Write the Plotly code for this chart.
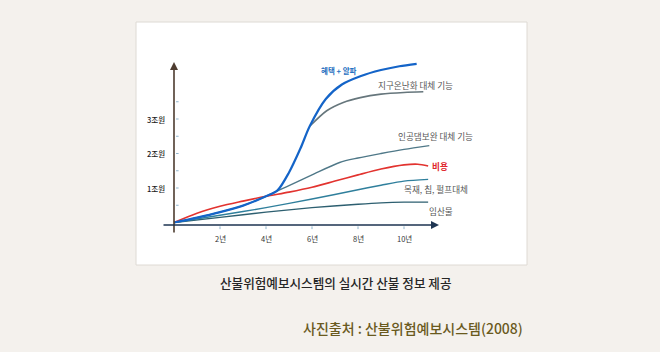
import plotly.graph_objects as go

# ---- data (years, 조원) ----
benefit_x = [0, 1, 2, 3, 4, 4.5, 5, 5.5, 5.9, 6.6, 7.3, 8.1, 9, 9.8, 10.55]
benefit_y = [0, 0.14, 0.30, 0.49, 0.76, 0.93, 1.45, 2.15, 2.79, 3.58, 4.0, 4.24, 4.42, 4.53, 4.6]

warming_x = [5.9, 6.64, 7.36, 8.1, 9.0, 10.0, 10.84]
warming_y = [2.79, 3.24, 3.48, 3.62, 3.72, 3.77, 3.79]

dam_x = [0, 1, 2, 3, 4, 5, 6, 7.2, 8, 9, 10, 11.1]
dam_y = [0, 0.14, 0.30, 0.49, 0.76, 1.07, 1.38, 1.74, 1.87, 2.0, 2.12, 2.23]

cost_x = [0, 1, 2, 3, 4, 5, 6, 7, 8, 9, 10, 10.6, 11.05]
cost_y = [0, 0.27, 0.47, 0.62, 0.76, 0.88, 1.02, 1.2, 1.38, 1.55, 1.67, 1.69, 1.64]

wood_x = [0, 2, 4, 6, 8, 9, 10, 11.05]
wood_y = [0, 0.21, 0.43, 0.68, 0.95, 1.08, 1.2, 1.25]

forest_x = [0, 2, 4, 6, 8, 9, 10, 11.05]
forest_y = [0, 0.15, 0.30, 0.43, 0.53, 0.57, 0.59, 0.59]

x_ticks = [2, 4, 6, 8, 10]
x_tick_labels = ["2년", "4년", "6년", "8년", "10년"]
y_ticks = [1, 2, 3]
y_tick_labels = ["1조원", "2조원", "3조원"]
y_minor = [0.5, 1, 1.5, 2, 2.5, 3, 3.5]

# ---- pixel mapping helpers ----
W, H = 660, 352
X0, XS = 174, 23.0      # px of year 0, px per year
Y0, YS = 222.5, 34.5    # px of value 0, px per 조원

def px(x):
    return x / W

def py(y):
    return 1 - y / H

FONT = "Noto Sans CJK KR"

fig = go.Figure()

series = [
    (forest_x, forest_y, "#2d5f70", 1.4),
    (wood_x, wood_y, "#2f7f9c", 1.4),
    (dam_x, dam_y, "#4f7888", 1.4),
    (warming_x, warming_y, "#66767c", 1.6),
    (cost_x, cost_y, "#e2332f", 1.6),
    (benefit_x, benefit_y, "#1464c8", 2.2),
]
for xs, ys, col, w in series:
    fig.add_trace(go.Scatter(x=xs, y=ys, mode="lines",
                             line=dict(color=col, width=w, shape="spline", smoothing=0.8),
                             hoverinfo="skip", showlegend=False, cliponaxis=False))

shapes = []
# white panel
shapes.append(dict(type="rect", xref="paper", yref="paper",
                   x0=px(136), x1=px(527), y0=py(265), y1=py(22),
                   fillcolor="white", line=dict(color="#dedad4", width=1), layer="below"))

x_axis_y = (Y0 - 225) / YS
y_axis_bottom = (Y0 - 234) / YS
y_axis_top = (Y0 - 62) / YS
x_axis_left = (162 - X0) / XS
x_axis_right = (439 - X0) / XS

# x ticks
for t in x_ticks:
    shapes.append(dict(type="line", xref="x", yref="y", x0=t, x1=t,
                       y0=x_axis_y - 0.04, y1=x_axis_y - 0.12,
                       line=dict(color="#8fb4cc", width=1)))
# y minor ticks
for t in y_minor:
    shapes.append(dict(type="line", xref="x", yref="y", x0=0.09, x1=0.2,
                       y0=t, y1=t, line=dict(color="#8fb4cc", width=1)))

annotations = []
# axes with arrows
annotations.append(dict(x=0, y=y_axis_top, ax=0, ay=y_axis_bottom, xref="x", yref="y",
                        axref="x", ayref="y", text="", showarrow=True, arrowhead=2,
                        arrowsize=1, arrowwidth=1.6, arrowcolor="#4e3c30"))
annotations.append(dict(x=x_axis_right, y=x_axis_y, ax=x_axis_left, ay=x_axis_y, xref="x", yref="y",
                        axref="x", ayref="y", text="", showarrow=True, arrowhead=2,
                        arrowsize=1, arrowwidth=1.6, arrowcolor="#1e3552"))

for t, lab in zip(x_ticks, x_tick_labels):
    annotations.append(dict(x=t, y=py(238), xref="x", yref="paper", text=lab, showarrow=False,
                            font=dict(family=FONT, size=7.5, color="#333333"),
                            xanchor="center", yanchor="middle"))
for t, lab in zip(y_ticks, y_tick_labels):
    annotations.append(dict(x=px(166.5), y=t, xref="paper", yref="y", text=lab, showarrow=False,
                            font=dict(family=FONT, size=7.5, color="#1a1a1a", weight=500),
                            xanchor="right", yanchor="middle"))

labels = [
    ("<b>혜택 + 알파</b>", 339, 70, "center", "#1e6fc0", 7.5),
    ("지구온난화 대체 기능", 415, 85, "center", "#555555", 8.6),
    ("인공댐보완 대체 기능", 435, 136, "center", "#555555", 8.6),
    ("<b>비용</b>", 430, 166, "left", "#e0262b", 8.6),
    ("목재, 칩, 펄프대체", 436, 189, "center", "#555555", 8.6),
    ("임산물", 441, 211, "center", "#555555", 8.6),
]
for text, x, y, anc, col, sz in labels:
    annotations.append(dict(x=px(x), y=py(y), xref="paper", yref="paper", text=text,
                            showarrow=False, xanchor=anc, yanchor="middle",
                            font=dict(family=FONT, size=sz, color=col)))

annotations.append(dict(x=px(336), y=py(282), xref="paper", yref="paper",
                        text="산불위험예보시스템의 실시간 산불 정보 제공", showarrow=False,
                        xanchor="center", yanchor="middle",
                        font=dict(family=FONT, size=12.6, color="#262626", weight=500)))
annotations.append(dict(x=px(525), y=py(328), xref="paper", yref="paper",
                        text="사진출처 : 산불위험예보시스템(2008)", showarrow=False,
                        xanchor="right", yanchor="middle",
                        font=dict(family=FONT, size=14, color="#6a5a1e", weight=500)))

fig.update_layout(
    width=W, height=H, margin=dict(l=0, r=0, t=0, b=0),
    paper_bgcolor="#f4f1ed", plot_bgcolor="rgba(0,0,0,0)",
    xaxis=dict(range=[-X0 / XS, (W - X0) / XS], visible=False, fixedrange=True),
    yaxis=dict(range=[(Y0 - H) / YS, Y0 / YS], visible=False, fixedrange=True),
    shapes=shapes, annotations=annotations, showlegend=False,
)

fig.write_html("out.html", config={"displayModeBar": False})
